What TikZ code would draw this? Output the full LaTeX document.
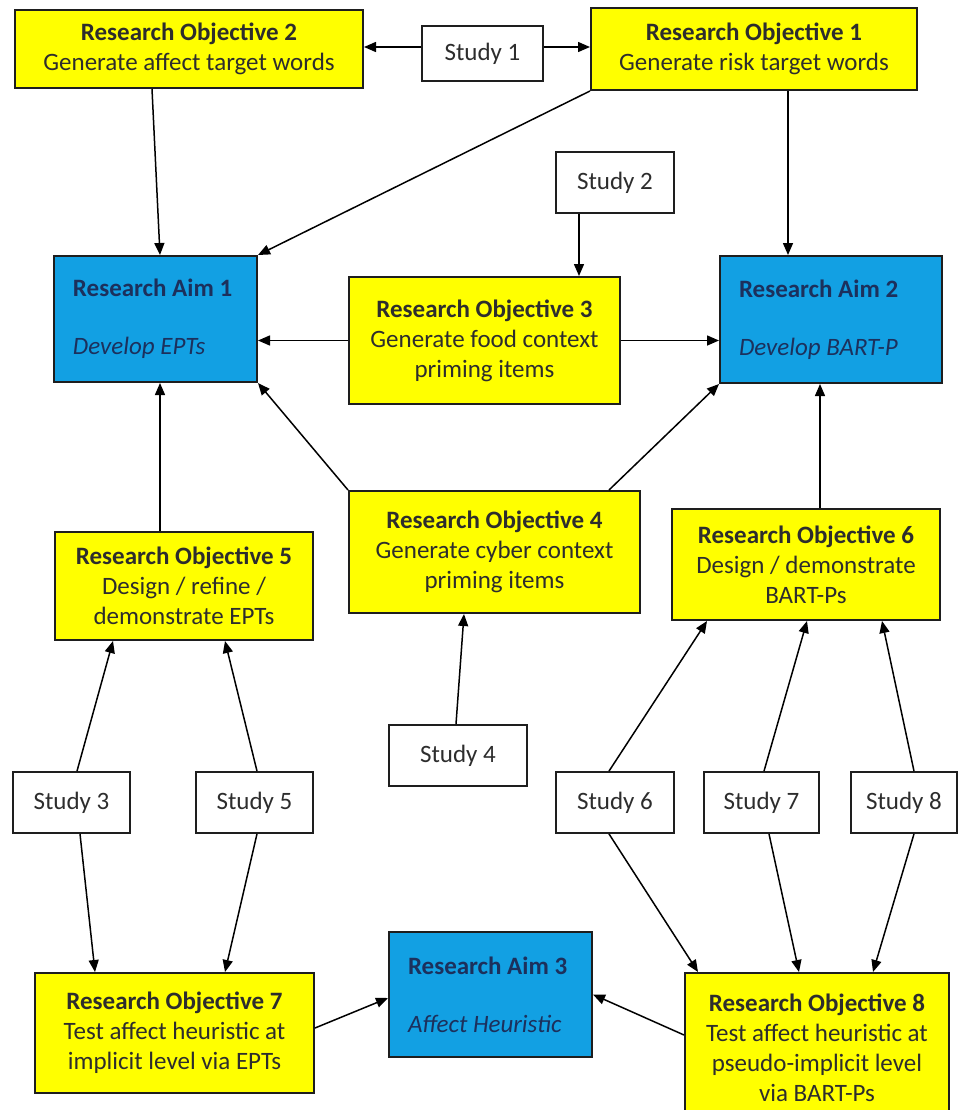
\documentclass[tikz,border=0pt]{standalone}
\usepackage{fontspec}
\setmainfont{Carlito}
\usetikzlibrary{arrows.meta}
\definecolor{boxyellow}{RGB}{255,255,0}
\definecolor{aimblue}{RGB}{18,160,227}
\definecolor{aimtext}{RGB}{28,48,92}
\definecolor{edgegray}{RGB}{30,30,30}
\definecolor{inkgray}{RGB}{45,45,45}
\begin{document}
\begin{tikzpicture}[x=1bp,y=-1bp,
  every node/.style={font=\fontsize{25bp}{30bp}\selectfont, inner sep=0pt},
  objbox/.style={draw=edgegray, line width=2bp, fill=boxyellow, align=center, text=inkgray},
  aimbox/.style={draw=edgegray, line width=2bp, fill=aimblue, text=aimtext, align=flush left, inner xsep=19bp},
  studybox/.style={draw=edgegray, line width=1.8bp, fill=white, text=inkgray},
  arr/.style={-{Triangle[length=12bp,width=10bp]}, line width=1.5bp, draw=black}]
\clip (0,0) rectangle (960,1110);
\fill[white] (0,0) rectangle (960,1110);

% top row
\node[objbox, minimum width=348bp, minimum height=78bp] (RO2) at (189,49)
  {\textbf{Research Objective 2}\\Generate affect target words};
\node[studybox, minimum width=121bp, minimum height=55bp] (S1) at (482.5,53.5) {Study 1};
\node[objbox, minimum width=326bp, minimum height=82bp] (RO1) at (754,49)
  {\textbf{Research Objective 1}\\Generate risk target words};
\node[studybox, minimum width=118bp, minimum height=61bp] (S2) at (615,182.5) {Study 2};

% research aims 1 and 2, objective 3
\node[aimbox, text width=165bp, minimum height=126bp] (RA1) at (155.5,319)
  {\mbox{\textbf{Research Aim 1}}\\[28bp]\mbox{\textit{Develop EPTs}}};
\node[objbox, minimum width=271bp, minimum height=127bp] (RO3) at (484.5,340.5)
  {\textbf{Research Objective 3}\\Generate food context\\priming items};
\node[aimbox, text width=184bp, minimum height=127bp] (RA2) at (831,319.5)
  {\mbox{\textbf{Research Aim 2}}\\[28bp]\mbox{\textit{Develop BART-P}}};

% objectives 4, 5, 6
\node[objbox, minimum width=291bp, minimum height=122bp] (RO4) at (494.5,552)
  {\textbf{Research Objective 4}\\Generate cyber context\\priming items};
\node[objbox, minimum width=258bp, minimum height=108bp] (RO5) at (184,586)
  {\textbf{Research Objective 5}\\Design / refine /\\demonstrate EPTs};
\node[objbox, minimum width=268bp, minimum height=111bp] (RO6) at (806,564.5)
  {\textbf{Research Objective 6}\\Design / demonstrate\\BART-Ps};

% studies
\node[studybox, minimum width=138bp, minimum height=61bp] (S4) at (458,755.5) {Study 4};
\node[studybox, minimum width=117bp, minimum height=61bp] (S3) at (71.5,802.5) {Study 3};
\node[studybox, minimum width=117bp, minimum height=61bp] (S5) at (254.5,802.5) {Study 5};
\node[studybox, minimum width=118bp, minimum height=61bp] (S6) at (615,802.5) {Study 6};
\node[studybox, minimum width=115bp, minimum height=61bp] (S7) at (761.5,802.5) {Study 7};
\node[studybox, minimum width=106bp, minimum height=61bp] (S8) at (904,802.5) {Study 8};

% bottom row
\node[aimbox, text width=165bp, minimum height=125bp] (RA3) at (490.5,994.5)
  {\mbox{\textbf{Research Aim 3}}\\[28bp]\mbox{\textit{Affect Heuristic}}};
\node[objbox, minimum width=279bp, minimum height=120bp] (RO7) at (174.5,1033)
  {\textbf{Research Objective 7}\\Test affect heuristic at\\implicit level via EPTs};
\node[objbox, minimum width=264bp, minimum height=150bp, text depth=0pt] (RO8) at (817,1048)
  {\textbf{Research Objective 8}\\Test affect heuristic at\\pseudo-implicit level\\via BART-Ps};

% connectors: study 1
\draw[arr] ([yshift=6.5bp]S1.west) coordinate (s1w) -- (s1w -| RO2.east);
\draw[arr] ([yshift=6.5bp]S1.east) coordinate (s1e) -- (s1e -| RO1.west);

% into research aims 1 and 2
\draw[arr] ([xshift=-37bp]RO2.south) -- ([xshift=4.5bp]RA1.north);
\draw[arr] (RO1.south west) -- (RA1.north east);
\draw[arr] ([xshift=34bp]RO1.south) coordinate (r1s) -- (r1s |- RA2.north);
\draw[arr] ([xshift=-36bp]S2.south) coordinate (s2s) -- (s2s |- RO3.north);
\draw[arr] (RO3.west) -- (RO3.west -| RA1.east);
\draw[arr] (RO3.east) -- (RO3.east -| RA2.west);
\draw[arr] ([xshift=-24bp]RO5.north) coordinate (r5n) -- (r5n |- RA1.south);
\draw[arr] (RO4.north west) -- (RA1.south east);
\draw[arr] ([xshift=114.5bp]RO4.north) -- (RA2.south west);
\draw[arr] ([xshift=14bp]RO6.north) coordinate (r6n) -- (r6n |- RA2.south);

% studies up to objectives 4, 5, 6
\draw[arr] ([xshift=-2bp]S4.north) -- ([xshift=-30.5bp]RO4.south);
\draw[arr] ([xshift=5.5bp]S3.north) -- ([xshift=-71bp]RO5.south);
\draw[arr] ([xshift=2.5bp]S5.north) -- ([xshift=41bp]RO5.south);
\draw[arr] ([xshift=-6bp]S6.north) -- ([xshift=-99bp]RO6.south);
\draw[arr] ([xshift=2.5bp]S7.north) -- ([xshift=1bp]RO6.south);
\draw[arr] ([xshift=10bp]S8.north) -- ([xshift=76bp]RO6.south);

% studies down to objectives 7 and 8
\draw[arr] ([xshift=8.5bp]S3.south) -- ([xshift=-79.5bp]RO7.north);
\draw[arr] ([xshift=2.5bp]S5.south) -- ([xshift=50.5bp]RO7.north);
\draw[arr] ([xshift=-6bp]S6.south) -- ([xshift=-119bp]RO8.north);
\draw[arr] ([xshift=7.5bp]S7.south) -- ([xshift=-18bp]RO8.north);
\draw[arr] ([xshift=10bp]S8.south) -- ([xshift=56bp]RO8.north);

% into research aim 3
\draw[arr] ([yshift=5bp]RO7.east) -- ([yshift=-3.5bp]RA3.west);
\draw[arr] ([yshift=13bp]RO8.west) -- (RA3.east);
\end{tikzpicture}
\end{document}
